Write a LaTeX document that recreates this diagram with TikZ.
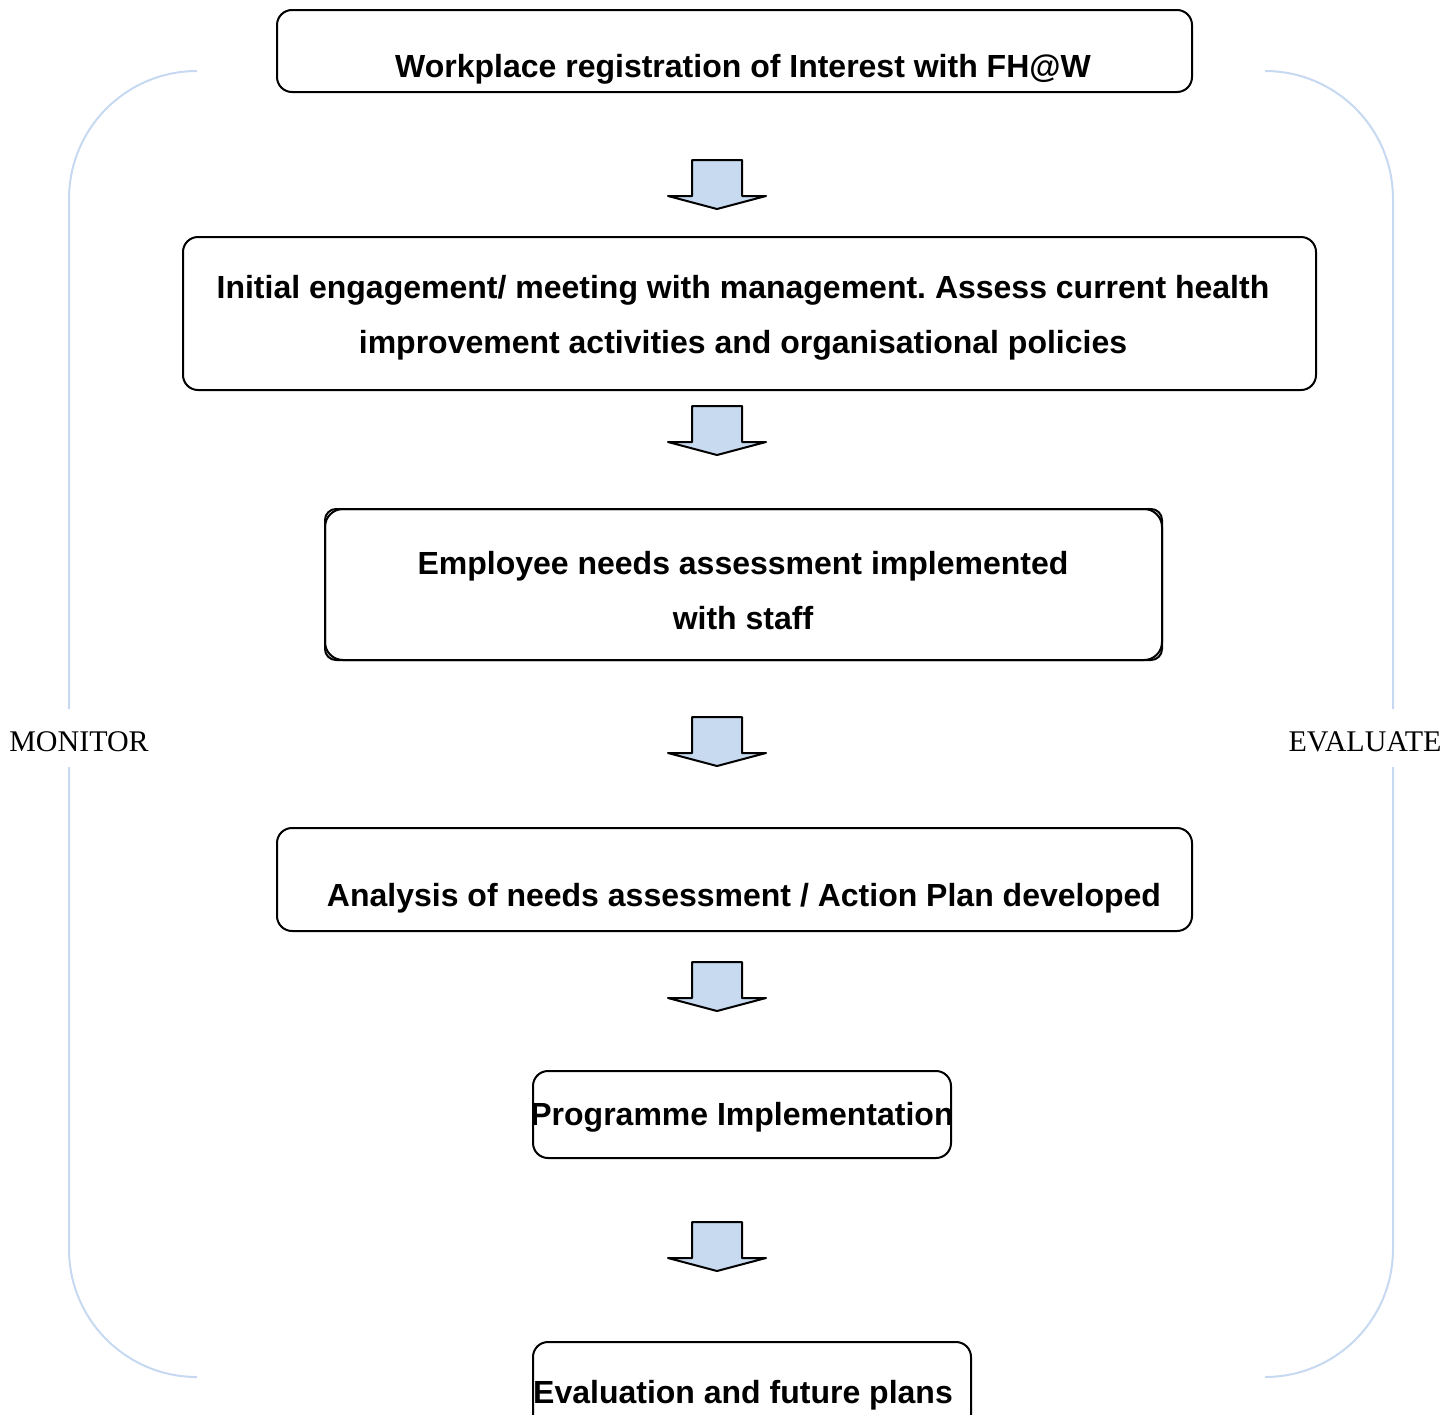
\documentclass[tikz,border=0pt]{standalone}
\usepackage{fontspec}
\setmainfont{Liberation Sans}
\newfontfamily\labelfont{Liberation Serif}
\usetikzlibrary{positioning}
\frenchspacing
\definecolor{bracketblue}{RGB}{198,217,241}
\definecolor{arrowblue}{RGB}{200,218,240}
\tikzset{
  stagebox/.style={draw, line width=1pt, rounded corners=7.5pt, inner sep=0pt},
  stagetext/.style={font=\fontsize{16}{27.5}\selectfont\bfseries, align=center, inner sep=0pt},
  sidelabel/.style={font=\labelfont\fontsize{15}{16}\selectfont, inner sep=0pt},
  bracket/.style={draw=bracketblue, line width=1pt},
  flowarrow/.style={draw, fill=arrowblue, line width=1pt, line join=round},
}
\begin{document}
\begin{tikzpicture}[x=0.5pt,y=-0.5pt]
	\useasboundingbox (0,0) rectangle (1456,1414);
	% stages
	\node[stagebox, minimum width=457.5pt, minimum height=41pt] (reg) at (734.5,51) {};
	\node[stagebox, minimum width=566.5pt, minimum height=76.5pt] (engage) at (749.5,313.5) {};
	\node[stagebox, rounded corners=5.5pt, minimum width=418.5pt, minimum height=75.5pt] (needsback) at (743.5,584.5) {};
	\node[stagebox, rounded corners=9pt, minimum width=418.5pt, minimum height=75.5pt] (needs) at (743.5,584.5) {};
	\node[stagebox, minimum width=457.5pt, minimum height=51.5pt] (analysis) at (734.5,879.5) {};
	\node[stagebox, minimum width=209pt, minimum height=43.5pt] (prog) at (742,1114.5) {};
	\node[stagebox, minimum width=219pt, minimum height=48pt] (evalbox) at (752,1390) {};
	% texts
	\node[stagetext] (regtext) at (743,69) {Workplace registration of Interest with FH@W};
	\node[stagetext] (engagetext) at (743,318) {Initial engagement/ meeting with management. Assess current health\\improvement activities and organisational policies};
	\node[stagetext] (needstext) at (743,591) {Employee needs assessment implemented\\with staff};
	\node[stagetext] (analysistext) at (744,898) {Analysis of needs assessment / Action Plan developed};
	\node[stagetext] (progtext) at (742,1117) {Programme Implementation};
	\node[stagetext] (evaltext) at (743,1395) {Evaluation and future plans};
	% block arrows
	\foreach \y in {160,406,717,962,1222}
		\draw[flowarrow] (692,\y) -- (742,\y) -- (742,\y+36) -- (766,\y+36) -- (717,\y+49) -- (668,\y+36) -- (692,\y+36) -- cycle;
	% side brackets
	\node[sidelabel] (monitor) at (79,742) {MONITOR};
	\node[sidelabel] (evaluate) at (1365,742) {EVALUATE};
	\draw[bracket, rounded corners=64pt] (193,71) -| (69,709);
	\draw[bracket, rounded corners=64pt] (69,767) |- (193,1377);
	\draw[bracket, rounded corners=64pt] (1267,71) -| (1393,709);
	\draw[bracket, rounded corners=64pt] (1393,767) |- (1267,1377);
\end{tikzpicture}
\end{document}
